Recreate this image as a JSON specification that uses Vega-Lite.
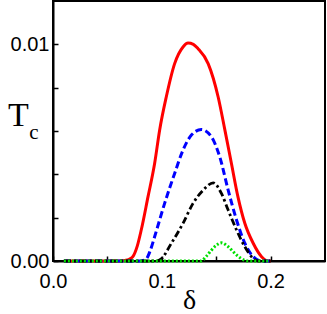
{
  "$schema": "https://vega.github.io/schema/vega-lite/v6.json",
  "width": 272,
  "height": 260,
  "autosize": "none",
  "padding": {"left": 53, "top": 1, "right": 2, "bottom": 53},
  "background": "white",
  "config": {
    "view": {"stroke": "black", "strokeWidth": 2},
    "axis": {
      "grid": false,
      "domainColor": "black",
      "domainWidth": 2,
      "tickColor": "black",
      "tickWidth": 1.5,
      "tickSize": -5,
      "labelFlush": false,
      "labelFont": "Liberation Sans",
      "labelFontSize": 20,
      "labelColor": "black",
      "titleColor": "black",
      "titleFontWeight": "normal"
    }
  },
  "datasets": {
    "red": [
      {"d": 0.01, "t": 0}, {"d": 0.06, "t": 0}, {"d": 0.066, "t": 0.00003}, {"d": 0.07, "t": 0.00008},
      {"d": 0.0734, "t": 0.0002}, {"d": 0.0775, "t": 0.0007}, {"d": 0.0811, "t": 0.00143},
      {"d": 0.0873, "t": 0.00296}, {"d": 0.0934, "t": 0.0045}, {"d": 0.098, "t": 0.00604},
      {"d": 0.1041, "t": 0.00757}, {"d": 0.1118, "t": 0.00911}, {"d": 0.1195, "t": 0.00988},
      {"d": 0.1241, "t": 0.01006}, {"d": 0.129, "t": 0.01}, {"d": 0.1333, "t": 0.0098},
      {"d": 0.1426, "t": 0.00911}, {"d": 0.1518, "t": 0.00757}, {"d": 0.158, "t": 0.00604},
      {"d": 0.164, "t": 0.0045}, {"d": 0.17, "t": 0.00296}, {"d": 0.1763, "t": 0.00174},
      {"d": 0.184, "t": 0.00082}, {"d": 0.1917, "t": 0.0002}, {"d": 0.198, "t": 0}, {"d": 0.2, "t": 0}
    ],
    "blue": [
      {"d": 0.01, "t": 0}, {"d": 0.08, "t": 0}, {"d": 0.0857, "t": 0.0001}, {"d": 0.0895, "t": 0.0005},
      {"d": 0.0934, "t": 0.00112}, {"d": 0.1026, "t": 0.00266}, {"d": 0.1118, "t": 0.00404},
      {"d": 0.1195, "t": 0.00512}, {"d": 0.1272, "t": 0.00581}, {"d": 0.1364, "t": 0.00607},
      {"d": 0.1456, "t": 0.00573}, {"d": 0.1533, "t": 0.0048}, {"d": 0.161, "t": 0.00327},
      {"d": 0.1687, "t": 0.00189}, {"d": 0.1763, "t": 0.00082}, {"d": 0.184, "t": 0.0002},
      {"d": 0.1917, "t": 0}, {"d": 0.2, "t": 0}
    ],
    "black": [
      {"d": 0.01, "t": 0}, {"d": 0.095, "t": 0}, {"d": 0.0995, "t": 0.0001}, {"d": 0.1088, "t": 0.00082},
      {"d": 0.1195, "t": 0.00174}, {"d": 0.1287, "t": 0.00266}, {"d": 0.138, "t": 0.00327},
      {"d": 0.1472, "t": 0.00361}, {"d": 0.1548, "t": 0.00312}, {"d": 0.161, "t": 0.00235},
      {"d": 0.1687, "t": 0.00143}, {"d": 0.1763, "t": 0.00066}, {"d": 0.184, "t": 0.00012},
      {"d": 0.1886, "t": 0}, {"d": 0.2, "t": 0}
    ],
    "green": [
      {"d": 0.01, "t": 0}, {"d": 0.136, "t": 0}, {"d": 0.141, "t": 0.00022}, {"d": 0.1456, "t": 0.0005},
      {"d": 0.1502, "t": 0.00073}, {"d": 0.1548, "t": 0.00084}, {"d": 0.161, "t": 0.00066},
      {"d": 0.1687, "t": 0.00028}, {"d": 0.1763, "t": 0.00003}, {"d": 0.18, "t": 0}, {"d": 0.198, "t": 0}
    ],
    "sub": [{"s": "c"}]
  },
  "layer": [
    {
      "data": {"name": "red"},
      "mark": {"type": "line", "color": "#ff0000", "strokeWidth": 3, "interpolate": "monotone"},
      "encoding": {
        "x": {
          "field": "d", "type": "quantitative",
          "scale": {"domain": [0, 0.25], "nice": false, "zero": false},
          "axis": {
            "values": [0, 0.05, 0.1, 0.15, 0.2],
            "labelExpr": "abs(datum.value*10 - round(datum.value*10)) < 0.001 ? format(datum.value, '.1f') : ''",
            "labelPadding": 15,
            "title": "δ",
            "titleFont": "Liberation Serif",
            "titleFontSize": 28,
            "titleBaseline": "alphabetic",
            "titleY": 47
          }
        },
        "y": {
          "field": "t", "type": "quantitative",
          "scale": {"domain": [0, 0.012], "nice": false},
          "axis": {
            "values": [0, 0.002, 0.004, 0.006, 0.008, 0.01],
            "labelExpr": "datum.value < 0.0001 || datum.value > 0.0099 ? format(datum.value, '.2f') : ''",
            "labelPadding": 9,
            "title": "T",
            "titleFont": "Liberation Serif",
            "titleFontSize": 34,
            "titleAngle": 0,
            "titleAlign": "center",
            "titleBaseline": "alphabetic",
            "titleX": -35,
            "titleY": 124
          }
        }
      }
    },
    {"data": {"name": "blue"}, "mark": {"type": "line", "color": "#0000ff", "strokeWidth": 3, "strokeDash": [7, 3.5], "interpolate": "monotone"},
     "encoding": {"x": {"field": "d", "type": "quantitative"}, "y": {"field": "t", "type": "quantitative"}}},
    {"data": {"name": "black"}, "mark": {"type": "line", "color": "#000000", "strokeWidth": 2.8, "strokeDash": [7, 3, 2.5, 3], "interpolate": "monotone"},
     "encoding": {"x": {"field": "d", "type": "quantitative"}, "y": {"field": "t", "type": "quantitative"}}},
    {"data": {"name": "green"}, "mark": {"type": "line", "color": "#00e000", "strokeWidth": 3, "strokeDash": [2, 2], "interpolate": "monotone"},
     "encoding": {"x": {"field": "d", "type": "quantitative"}, "y": {"field": "t", "type": "quantitative"}}},
    {
      "data": {"name": "sub"},
      "mark": {"type": "text", "font": "Liberation Serif", "fontSize": 21, "color": "black", "clip": false},
      "encoding": {
        "x": {"datum": -0.0175, "type": "quantitative"},
        "y": {"datum": 0.0059, "type": "quantitative"},
        "text": {"field": "s", "type": "nominal"}
      }
    }
  ]
}
